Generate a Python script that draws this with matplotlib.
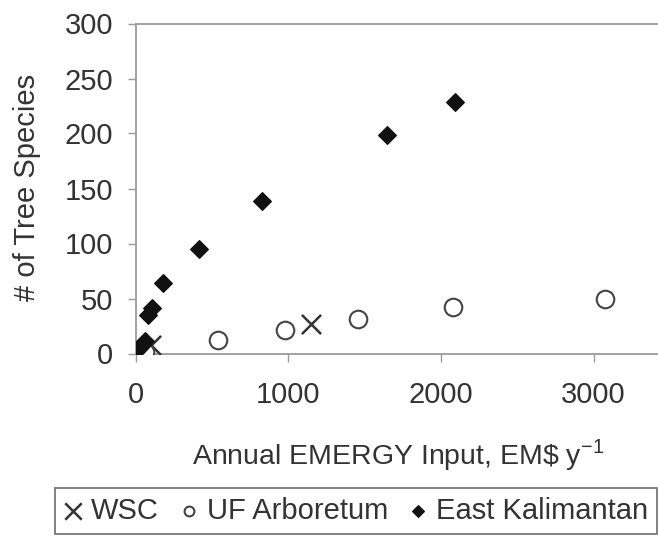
import matplotlib
matplotlib.use("Agg")
import matplotlib.pyplot as plt

plt.rcParams['font.family'] = ['Liberation Sans', 'DejaVu Sans']
plt.rcParams['mathtext.fontset'] = 'custom'
plt.rcParams['mathtext.rm'] = 'Liberation Sans'

# Data
wsc_x = [0, 40, 100, 1150]
wsc_y = [0, 3, 8, 27]
uf_x = [60, 541, 980, 1456, 2081, 3075]
uf_y = [1, 12, 21, 31, 42, 50]
ek_x = [5, 20, 40, 60, 80, 110, 180, 414, 827, 1645, 2094]
ek_y = [2, 5, 8, 11, 35, 41, 64, 95, 139, 199, 229]

x_ticks = [0, 1000, 2000, 3000]
y_ticks = [0, 50, 100, 150, 200, 250, 300]

W, H = 658, 538
fig = plt.figure(figsize=(W / 100, H / 100), dpi=100)
left, right = 135.5, 658
top, bottom = 23.5, 353.5
ax = fig.add_axes([left / W, 1 - bottom / H, (right - left) / W, (bottom - top) / H])

txt = '#333333'
spine_c = '#9a9a9a'

ax.scatter(wsc_x, wsc_y, marker='x', s=190, c='#333333', linewidths=1.8, zorder=3, label='WSC')
ax.scatter(uf_x, uf_y, marker='o', s=160, facecolors='white', edgecolors='#444444', linewidths=1.5, zorder=3, label='UF Arboretum')
ax.scatter(ek_x, ek_y, marker='D', s=80, c='#111111', zorder=4, label='East Kalimantan')

ax.set_xlim(0, 3422)
ax.set_ylim(0, 300)
ax.set_xticks(x_ticks)
ax.set_yticks(y_ticks)
ax.tick_params(axis='both', labelsize=21, colors=spine_c, labelcolor=txt, length=6, width=1, direction='out')
ax.tick_params(axis='x', pad=14)
ax.tick_params(axis='y', pad=10)
for s in ['left', 'bottom', 'top']:
    ax.spines[s].set_color(spine_c)
    ax.spines[s].set_linewidth(1.3)
ax.spines['right'].set_visible(False)

ax.set_ylabel('# of Tree Species', fontsize=21, color=txt)
ax.yaxis.label.set_verticalalignment('center')
ax.yaxis.set_label_coords((27 - left) / (right - left), (bottom - 187) / (bottom - top))
ax.set_xlabel('Annual EMERGY Input, EM\\$ y$^{\\mathregular{-1}}$', fontsize=20.5, color=txt)
ax.xaxis.label.set_verticalalignment('center')
ax.xaxis.set_label_coords((398 - left) / (right - left), (bottom - 455) / (bottom - top))

leg = fig.legend(loc='upper left', bbox_to_anchor=(55 / W, 1 - 488 / H), ncol=3,
                 fontsize=21, frameon=True, fancybox=False, edgecolor='#555555',
                 handletextpad=0.33, columnspacing=0.72, borderpad=0.3, handlelength=0.6,
                 borderaxespad=0)
sizes = [140, 50, 35]
for h, sz in zip(leg.legend_handles, sizes):
    h.set_sizes([sz])
for t in leg.get_texts():
    t.set_color(txt)
leg.get_frame().set_linewidth(1.3)

fig.savefig('out.png', dpi=100)
